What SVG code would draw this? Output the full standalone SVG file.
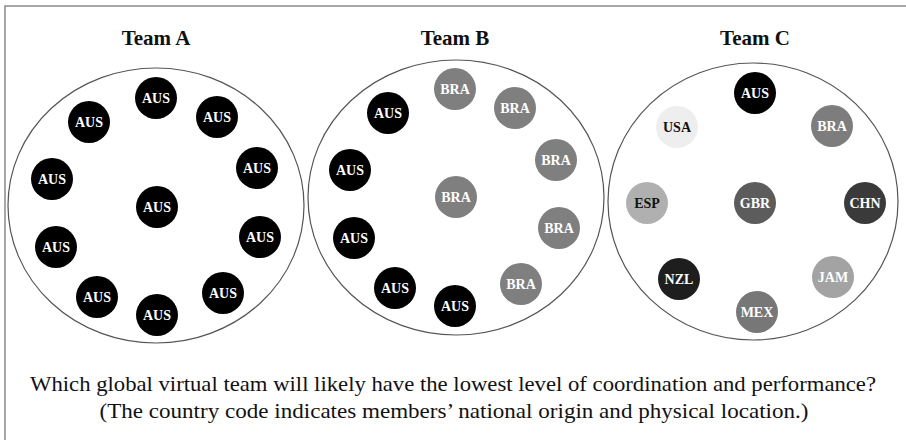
<svg xmlns="http://www.w3.org/2000/svg" width="906" height="440" viewBox="0 0 906 440">
<style>
.frame{fill:#fff;stroke:#8a8a8a;stroke-width:1.5}
.team{fill:none;stroke:#555;stroke-width:1.2}
.title{font-family:"Liberation Serif",serif;font-weight:bold;font-size:21px;fill:#111;text-anchor:middle}
.n circle{stroke:none}
.n text{font-family:"Liberation Serif",serif;font-weight:bold;font-size:14px;text-anchor:middle;fill:#fff}
.aus circle{fill:#000}
.bra circle{fill:#7f7f7f}
.q{font-family:"Liberation Serif",serif;font-size:22px;fill:#111;text-anchor:middle}
</style>
<rect class="frame" x="5" y="6" width="910" height="440"/>
<g id="teamA">
<text class="title" x="156" y="45">Team A</text>
<ellipse class="team" cx="156" cy="205.5" rx="148" ry="137.5"/>
<g id="a1" class="n aus"><circle cx="156" cy="98" r="21"/><text x="156" y="103">AUS</text></g>
<g id="a2" class="n aus"><circle cx="89" cy="122" r="21"/><text x="89" y="127">AUS</text></g>
<g id="a3" class="n aus"><circle cx="217" cy="117" r="21"/><text x="217" y="122">AUS</text></g>
<g id="a4" class="n aus"><circle cx="52" cy="179" r="21"/><text x="52" y="184">AUS</text></g>
<g id="a5" class="n aus"><circle cx="257" cy="168" r="21"/><text x="257" y="173">AUS</text></g>
<g id="a6" class="n aus"><circle cx="157" cy="207" r="21"/><text x="157" y="212">AUS</text></g>
<g id="a7" class="n aus"><circle cx="56" cy="247" r="21"/><text x="56" y="252">AUS</text></g>
<g id="a8" class="n aus"><circle cx="260" cy="237" r="21"/><text x="260" y="242">AUS</text></g>
<g id="a9" class="n aus"><circle cx="97" cy="297" r="21"/><text x="97" y="302">AUS</text></g>
<g id="a10" class="n aus"><circle cx="223" cy="293" r="21"/><text x="223" y="298">AUS</text></g>
<g id="a11" class="n aus"><circle cx="157" cy="315" r="21"/><text x="157" y="320">AUS</text></g>
</g>
<g id="teamB">
<text class="title" x="455" y="45">Team B</text>
<ellipse class="team" cx="456" cy="197.5" rx="148" ry="137.5"/>
<g id="b1" class="n bra"><circle cx="455" cy="89" r="21"/><text x="455" y="94">BRA</text></g>
<g id="b2" class="n bra"><circle cx="515" cy="108" r="21"/><text x="515" y="113">BRA</text></g>
<g id="b3" class="n bra"><circle cx="556" cy="160" r="21"/><text x="556" y="165">BRA</text></g>
<g id="b4" class="n bra"><circle cx="456" cy="197" r="21"/><text x="456" y="202">BRA</text></g>
<g id="b5" class="n bra"><circle cx="559" cy="228" r="21"/><text x="559" y="233">BRA</text></g>
<g id="b6" class="n bra"><circle cx="521" cy="284" r="21"/><text x="521" y="289">BRA</text></g>
<g id="b7" class="n aus"><circle cx="388" cy="113" r="21"/><text x="388" y="118">AUS</text></g>
<g id="b8" class="n aus"><circle cx="350" cy="170" r="21"/><text x="350" y="175">AUS</text></g>
<g id="b9" class="n aus"><circle cx="354" cy="238" r="21"/><text x="354" y="243">AUS</text></g>
<g id="b10" class="n aus"><circle cx="395" cy="288" r="21"/><text x="395" y="293">AUS</text></g>
<g id="b11" class="n aus"><circle cx="455" cy="306" r="21"/><text x="455" y="311">AUS</text></g>
</g>
<g id="teamC">
<text class="title" x="755" y="45">Team C</text>
<ellipse class="team" cx="753" cy="201.5" rx="145" ry="138.5"/>
<g id="c1" class="n aus"><circle cx="755" cy="93" r="21"/><text x="755" y="98">AUS</text></g>
<g id="c2" class="n"><circle cx="677" cy="127" r="21" fill="#eeeeee"/><text x="677" y="132" style="fill:#111">USA</text></g>
<g id="c3" class="n"><circle cx="832" cy="126" r="21" fill="#7d7d7d"/><text x="832" y="131">BRA</text></g>
<g id="c4" class="n"><circle cx="647" cy="203" r="21" fill="#b0b0b0"/><text x="647" y="208" style="fill:#111">ESP</text></g>
<g id="c5" class="n"><circle cx="755" cy="203" r="21" fill="#5c5c5c"/><text x="755" y="208">GBR</text></g>
<g id="c6" class="n"><circle cx="865" cy="203" r="21" fill="#3a3a3a"/><text x="865" y="208">CHN</text></g>
<g id="c7" class="n"><circle cx="679" cy="279" r="21" fill="#1e1e1e"/><text x="679" y="284">NZL</text></g>
<g id="c8" class="n"><circle cx="833" cy="277" r="21" fill="#a3a3a3"/><text x="833" y="282">JAM</text></g>
<g id="c9" class="n"><circle cx="757" cy="312" r="21" fill="#777777"/><text x="757" y="317">MEX</text></g>
</g>
<g id="connectors"/>
<text class="q" x="453" y="391" textLength="846" lengthAdjust="spacingAndGlyphs">Which global virtual team will likely have the lowest level of coordination and performance?</text>
<text class="q" x="454" y="418" textLength="709" lengthAdjust="spacingAndGlyphs">(The country code indicates members’ national origin and physical location.)</text>
</svg>
